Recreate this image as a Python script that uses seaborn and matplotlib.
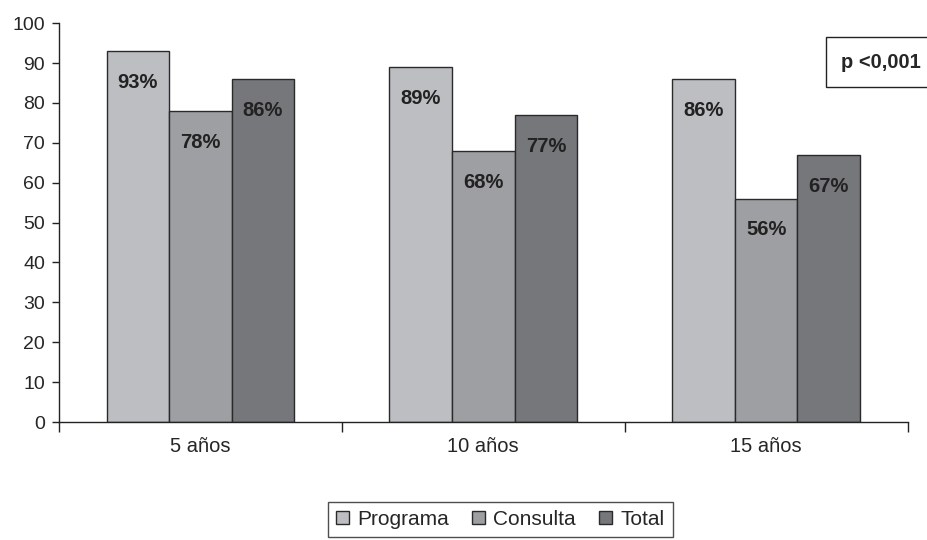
import matplotlib
matplotlib.use("Agg")
from matplotlib import pyplot as plt
import pandas as pd
import seaborn as sns

periodos = ["5 años", "10 años", "15 años"]
grupos = ["Programa", "Consulta", "Total"]
programa = [93, 89, 86]
consulta = [78, 68, 56]
total = [86, 77, 67]
colores = ["#bdbec2", "#9e9fa3", "#76777b"]

df = pd.DataFrame({
    "periodo": periodos * 3,
    "grupo": ["Programa"] * 3 + ["Consulta"] * 3 + ["Total"] * 3,
    "valor": programa + consulta + total,
})

sns.set_style("white")
plt.rcParams['font.family'] = ['Liberation Sans', 'DejaVu Sans']

fig = plt.figure(figsize=(9.28, 5.4), dpi=100)
ax = fig.add_axes([0.0636, 0.2185, 0.9144, 0.7385])

sns.barplot(data=df, x="periodo", y="valor", hue="grupo", order=periodos,
            hue_order=grupos, palette=colores, width=0.664, gap=0,
            edgecolor="#2a2a2a", linewidth=1, saturation=1, ax=ax)

# etiquetas dentro de cada barra
for cont in ax.containers:
    for bar in cont:
        h = bar.get_height()
        ax.annotate(f"{h:.0f}%", (bar.get_x() + bar.get_width() / 2, h),
                    xytext=(0, -22.5), textcoords="offset points",
                    ha="center", va="center", fontsize=14.5, fontweight="bold",
                    color="#222222")

ax.set_xlim(-0.5, 2.5)
ax.set_ylim(0, 100)
ax.set_yticks(range(0, 101, 10))
ax.set_xlabel("")
ax.set_ylabel("")
ax.set_xticks([-0.5, 0.5, 1.5, 2.5], minor=True)
ax.tick_params(axis="x", which="major", length=0, labelsize=14.5, pad=11)
ax.tick_params(axis="x", which="minor", length=7, width=1, color="#222222", direction="out", bottom=True)
ax.tick_params(axis="y", length=5, width=1, color="#222222", direction="out", left=True, labelsize=14, pad=5)
for s in ["top", "right"]:
    ax.spines[s].set_visible(False)
for s in ["left", "bottom"]:
    ax.spines[s].set_color("#222222")
    ax.spines[s].set_linewidth(1)

ax.text(0.949, 0.885, "p <0,001", transform=fig.transFigure, ha="center", va="center",
        fontsize=14.5, fontweight="bold",
        bbox=dict(boxstyle="square,pad=0.75", facecolor="white", edgecolor="#222222", linewidth=1))

ax.legend(loc="upper center", bbox_to_anchor=(0.539, 0.071), bbox_transform=fig.transFigure,
          ncol=3, frameon=True, fancybox=False, edgecolor="#222222", fontsize=15,
          handlelength=0.63, handleheight=0.63, handletextpad=0.4, columnspacing=1.1,
          borderpad=0.4, borderaxespad=0)

fig.savefig("out.png", dpi=100)
